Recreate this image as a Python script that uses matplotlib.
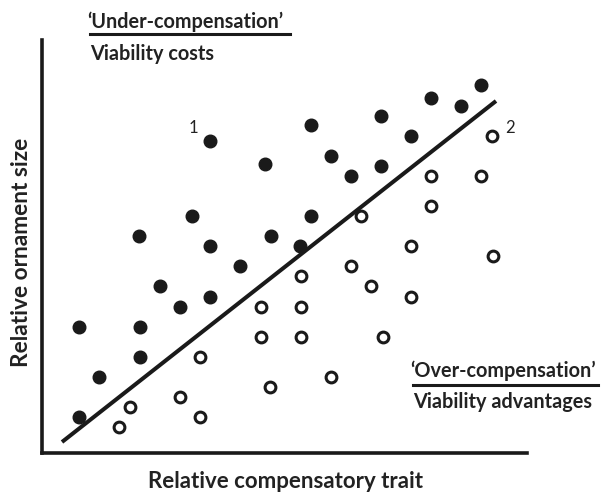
import matplotlib.pyplot as plt
from matplotlib.lines import Line2D

plt.rcParams['font.family'] = ['Lato', 'DejaVu Sans']

# filled points: above the line (under-compensation)
filled_x = [37, 37, 57, 98, 98, 97, 118, 138, 150, 168, 168, 168, 198,
            223, 229, 258, 269, 269, 289, 309, 339, 339, 369, 389, 419, 439]
filled_y = [36, 126, 76, 96, 126, 217, 167, 146, 237, 156, 207, 312, 187,
            289, 217, 207, 328, 237, 297, 277, 287, 337, 317, 355, 347, 368]

# open points: below the line (over-compensation)
open_x = [77, 88, 138, 158, 158, 219, 219, 228, 259, 259, 259, 289,
          309, 319, 329, 341, 369, 369, 389, 389, 439, 450, 451]
open_y = [26, 46, 56, 36, 96, 146, 116, 66, 177, 146, 116, 76,
          187, 237, 167, 116, 207, 156, 277, 247, 277, 317, 197]

line_x = [20, 454]
line_y = [11, 352]

fig = plt.figure(figsize=(6.05, 4.92), dpi=100)
ax = fig.add_axes([42 / 605, 39 / 492, 485 / 605, 413 / 492])

ax.plot(line_x, line_y, color='#1a1a1a', lw=2.9, solid_capstyle='butt', zorder=2)
ax.scatter(filled_x, filled_y, s=82, color='#1a1a1a', zorder=3)
ax.scatter(open_x, open_y, s=60, facecolor='white', edgecolor='#1a1a1a',
           linewidths=2.2, zorder=3)

ax.text(151, 325, '1', fontsize=12, ha='center', va='center', color='#222222')
ax.text(468, 325, '2', fontsize=12, ha='center', va='center', color='#222222')

ax.set_xlim(0, 485)
ax.set_ylim(0, 413)
ax.set_xticks([])
ax.set_yticks([])
for side in ['top', 'right']:
    ax.spines[side].set_visible(False)
for side in ['left', 'bottom']:
    ax.spines[side].set_linewidth(2.6)
    ax.spines[side].set_color('#1a1a1a')

bold = dict(fontsize=14.3, fontweight='bold', color='#222222')
fig.text(185 / 605, 1 - 28 / 492, '\u2018Under-compensation\u2019', ha='center', va='baseline', **bold)
fig.add_artist(Line2D([90 / 605, 290 / 605], [1 - 34 / 492] * 2, color='#1a1a1a', lw=2.2))
fig.text(90 / 605, 1 - 60 / 492, 'Viability costs', ha='left', va='baseline', **bold)

fig.text(503 / 605, 1 - 377 / 492, '\u2018Over-compensation\u2019', ha='center', va='baseline', **bold)
fig.add_artist(Line2D([413 / 605, 598 / 605], [1 - 385 / 492] * 2, color='#1a1a1a', lw=2.2))
fig.text(503 / 605, 1 - 408 / 492, 'Viability advantages', ha='center', va='baseline', **bold)

fig.text(285 / 605, 1 - 488 / 492, 'Relative compensatory trait', ha='center', va='baseline',
         fontsize=16, fontweight='bold', color='#222222')
fig.text(22 / 605, 1 - 252 / 492, 'Relative ornament size', ha='center', va='center',
         rotation=90, fontsize=16.3, fontweight='bold', color='#222222')

fig.savefig('out.png', dpi=100)
